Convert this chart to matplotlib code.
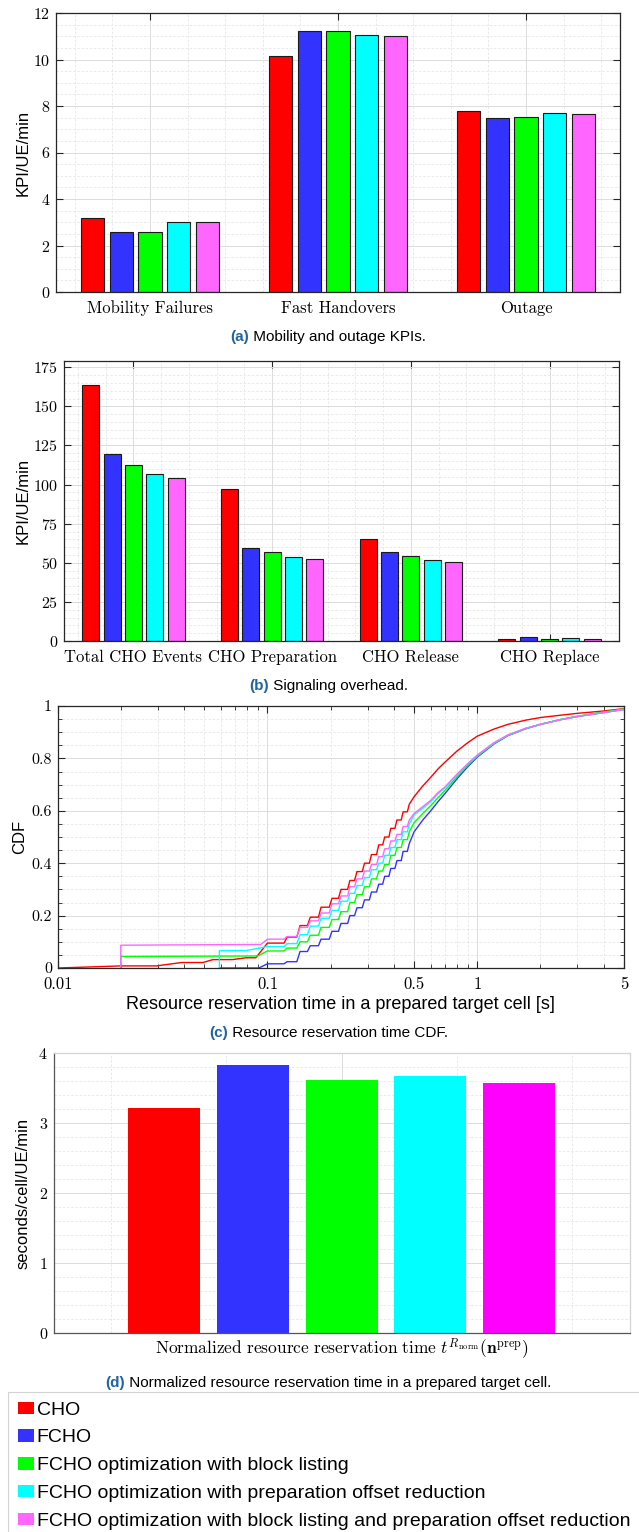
"""Recreate the four-panel CHO / FCHO comparison figure."""
import matplotlib
matplotlib.use("Agg")
import matplotlib.pyplot as plt
import numpy as np
from matplotlib import font_manager
from matplotlib.patches import Patch
from matplotlib.ticker import MultipleLocator, FixedLocator, LogLocator, NullFormatter

W, H = 639, 1532

SERIES = [
    "CHO",
    "FCHO",
    "FCHO optimization with block listing",
    "FCHO optimization with preparation offset reduction",
    "FCHO optimization with block listing and preparation offset reduction",
]
BAR_COLORS = ["#ff0000", "#3333ff", "#00ff00", "#00ffff", "#ff66ff"]
NORM_COLORS = ["#ff0000", "#3333ff", "#00ff00", "#00ffff", "#ff00ff"]

# (a) mobility and outage KPIs, one row per series
KPI_CATS = ["Mobility Failures", "Fast Handovers", "Outage"]
KPI_VALUES = [
    [3.19, 10.14, 7.79],
    [2.57, 11.23, 7.50],
    [2.59, 11.24, 7.51],
    [3.01, 11.04, 7.69],
    [3.00, 11.03, 7.67],
]
KPI_YTICKS = [0, 2, 4, 6, 8, 10, 12]

# (b) signaling overhead
SIG_CATS = ["Total CHO Events", "CHO Preparation", "CHO Release", "CHO Replace"]
SIG_VALUES = [
    [163.7, 96.9, 65.1, 1.5],
    [119.3, 59.5, 57.2, 2.8],
    [112.5, 56.8, 54.4, 1.5],
    [106.9, 53.6, 51.6, 1.9],
    [103.9, 52.5, 50.4, 1.3],
]
SIG_YTICKS = [0, 25, 50, 75, 100, 125, 150, 175]

# (c) resource reservation time CDF
CDF_XTICKS = [0.01, 0.1, 0.5, 1, 5]
CDF_XLABELS = ["0.01", "0.1", "0.5", "1", "5"]
CDF_YTICKS = [0, 0.2, 0.4, 0.6, 0.8, 1]
CDF_YLABELS = ["0", "0.2", "0.4", "0.6", "0.8", "1"]
# start and end of each small ramp in the staircase part of the curves
STEP_X = [0.1, 0.12, 0.138, 0.155, 0.175, 0.197, 0.218, 0.241, 0.26, 0.283,
          0.306, 0.331, 0.354, 0.379, 0.405, 0.434, 0.464]
STEP_TOP_X = [0.1, 0.124, 0.143, 0.16, 0.18, 0.203, 0.224, 0.247, 0.267, 0.29,
              0.313, 0.339, 0.362, 0.387, 0.414, 0.443, 0.474]
TAIL_X = [0.5, 0.55, 0.6, 0.65, 0.7, 0.8, 0.9, 1.0, 1.2, 1.4, 1.7, 2.0, 2.5,
          3.0, 4.0, 5.0]

CHO_PRE_X = [0.01, 0.02, 0.0296, 0.039, 0.0493, 0.055, 0.068, 0.079, 0.088, 0.1]
CHO_PRE_Y = [0, 0.008, 0.008, 0.021, 0.021, 0.032, 0.032, 0.039, 0.039, 0.095]
CHO_STEPS = [0.095, 0.118, 0.162, 0.194, 0.232, 0.266, 0.30, 0.334, 0.368, 0.40,
             0.433, 0.47, 0.50, 0.533, 0.565, 0.596, 0.625]
CHO_TAIL = [0.654, 0.695, 0.728, 0.76, 0.785, 0.828, 0.86, 0.885, 0.912, 0.93,
            0.946, 0.956, 0.965, 0.972, 0.981, 0.99]

FCHO_PRE_X = [0.059, 0.091, 0.1]
FCHO_PRE_Y = [0, 0, 0.016]
FCHO_STEPS = [0.016, 0.024, 0.063, 0.085, 0.11, 0.14, 0.17, 0.2, 0.23, 0.26,
              0.29, 0.32, 0.35, 0.38, 0.41, 0.445, 0.475]
FCHO_TAIL = [0.52, 0.565, 0.6, 0.635, 0.665, 0.722, 0.768, 0.805, 0.855, 0.887,
             0.913, 0.93, 0.948, 0.96, 0.975, 0.987]

BL_PRE_X = [0.02, 0.02, 0.09, 0.1]
BL_PRE_Y = [0, 0.044, 0.046, 0.065]
BL_STEPS = [0.065, 0.076, 0.10, 0.125, 0.155, 0.185, 0.215, 0.25, 0.28, 0.31,
            0.34, 0.37, 0.395, 0.43, 0.46, 0.49, 0.52]
BL_TAIL = [0.555, 0.59, 0.62, 0.65, 0.677, 0.73, 0.773, 0.808, 0.857, 0.888,
           0.914, 0.93, 0.949, 0.961, 0.977, 0.989]

POR_PRE_X = [0.059, 0.059, 0.0785, 0.1]
POR_PRE_Y = [0, 0.066, 0.066, 0.082]
POR_STEPS = [0.082, 0.093, 0.127, 0.16, 0.19, 0.22, 0.255, 0.285, 0.315, 0.345,
             0.375, 0.40, 0.43, 0.46, 0.49, 0.52, 0.55]
POR_TAIL = [0.585, 0.61, 0.635, 0.665, 0.688, 0.737, 0.778, 0.811, 0.858, 0.889,
            0.914, 0.93, 0.948, 0.96, 0.975, 0.987]

BLPOR_PRE_X = [0.02, 0.02, 0.093, 0.1]
BLPOR_PRE_Y = [0, 0.087, 0.09, 0.11]
BLPOR_STEPS = [0.11, 0.12, 0.155, 0.18, 0.21, 0.245, 0.275, 0.31, 0.34, 0.37,
               0.395, 0.425, 0.455, 0.485, 0.51, 0.54, 0.565]
BLPOR_TAIL = [0.59, 0.616, 0.64, 0.67, 0.69, 0.74, 0.78, 0.813, 0.86, 0.89,
              0.915, 0.93, 0.948, 0.96, 0.975, 0.987]

# (d) normalized resource reservation time
NORM_VALUES = [3.22, 3.83, 3.62, 3.67, 3.57]
NORM_YTICKS = [0, 1, 2, 3, 4]

CAPTIONS = [
    ("(a)", "Mobility and outage KPIs."),
    ("(b)", "Signaling overhead."),
    ("(c)", "Resource reservation time CDF."),
    ("(d)", "Normalized resource reservation time in a prepared target cell."),
]

_names = {f.name for f in font_manager.fontManager.ttflist}
SANS = "Liberation Sans"
NARROW = "Liberation Sans Narrow" if "Liberation Sans Narrow" in _names else SANS

plt.rcParams["mathtext.fontset"] = "cm"
plt.rcParams["axes.formatter.use_mathtext"] = True

GROUP_STEP = 0.1538
BAR_W = 0.123
OFFSETS = (np.arange(5) - 2) * GROUP_STEP
SPINE = "#262626"


def px_axes(fig, l, t, r, b):
    return fig.add_axes([l / W, 1 - b / H, (r - l) / W, (b - t) / H])


def style(ax, minor_y, minor_x=None):
    ax.set_axisbelow(True)
    for s in ax.spines.values():
        s.set_color(SPINE)
        s.set_linewidth(0.9)
    ax.yaxis.set_minor_locator(MultipleLocator(minor_y))
    if minor_x is not None:
        ax.xaxis.set_minor_locator(MultipleLocator(minor_x))
    ax.grid(True, which="major", color="#dcdcdc", lw=0.7, ls="-")
    ax.grid(True, which="minor", color="#e6e6e6", lw=0.6, ls=(0, (3, 2)))
    ax.tick_params(which="both", direction="in", top=True, right=True,
                   color=SPINE, labelfontfamily="cmr10")
    ax.tick_params(which="major", length=5, width=0.8)
    ax.tick_params(axis="y", labelsize=11.5, pad=4)
    ax.tick_params(axis="x", labelsize=12, pad=6)


def ylabel(fig, x, y, text):
    fig.text(x / W, 1 - y / H, text, rotation=90, ha="center", va="center",
             fontsize=12, family=SANS)


def grouped_bars(ax, cats, values):
    x = np.arange(1, len(cats) + 1)
    for i, vals in enumerate(values):
        ax.bar(x + OFFSETS[i], vals, width=BAR_W, color=BAR_COLORS[i],
               edgecolor="#1a1a1a", lw=0.8, label=SERIES[i])
    ax.set_xticks(x, cats)
    ax.set_xlim(0.5, len(cats) + 0.5)
    ax.tick_params(which="minor", length=0)


def cdf_path(pre_x, pre_y, steps, tail):
    xs, ys = list(pre_x), list(pre_y)
    for k in range(1, len(STEP_X)):
        xs += [STEP_X[k], STEP_TOP_X[k]]
        ys += [steps[k - 1], steps[k]]
    return xs + TAIL_X, ys + tail


fig = plt.figure(figsize=(W / 100, H / 100), dpi=100)

# (a)
ax = px_axes(fig, 56, 13, 620, 292)
style(ax, 0.5, 0.2)
grouped_bars(ax, KPI_CATS, KPI_VALUES)
ax.set_ylim(0, 12)
ax.set_yticks(KPI_YTICKS)
ylabel(fig, 23.5, 152.5, "KPI/UE/min")

# (b)
ax = px_axes(fig, 64, 361, 619, 641)
style(ax, 5, 0.2)
grouped_bars(ax, SIG_CATS, SIG_VALUES)
ax.set_ylim(0, 179)
ax.set_yticks(SIG_YTICKS)
ylabel(fig, 23.5, 501, "KPI/UE/min")

# (c)
ax = px_axes(fig, 57.6, 706, 624, 968)
ax.set_xscale("log")
style(ax, 0.05)
curves = [
    (CHO_PRE_X, CHO_PRE_Y, CHO_STEPS, CHO_TAIL),
    (FCHO_PRE_X, FCHO_PRE_Y, FCHO_STEPS, FCHO_TAIL),
    (BL_PRE_X, BL_PRE_Y, BL_STEPS, BL_TAIL),
    (POR_PRE_X, POR_PRE_Y, POR_STEPS, POR_TAIL),
    (BLPOR_PRE_X, BLPOR_PRE_Y, BLPOR_STEPS, BLPOR_TAIL),
]
for (px, py, st, tl), color in zip(curves, BAR_COLORS):
    xs, ys = cdf_path(px, py, st, tl)
    ax.plot(xs, ys, color=color, lw=1.0)
ax.set_xlim(0.01, 5)
ax.set_ylim(0, 1)
ax.xaxis.set_major_locator(FixedLocator(CDF_XTICKS))
ax.xaxis.set_minor_locator(LogLocator(subs=np.arange(2, 10)))
ax.xaxis.set_minor_formatter(NullFormatter())
ax.set_xticks(CDF_XTICKS, CDF_XLABELS)
ax.set_yticks(CDF_YTICKS, CDF_YLABELS)
ax.tick_params(which="minor", length=3, width=0.6)
ax.set_xlabel("Resource reservation time in a prepared target cell [s]",
              fontsize=13, family=NARROW, labelpad=3)
ylabel(fig, 19.5, 837, "CDF")

# (d)
ax = px_axes(fig, 53.5, 1053, 630, 1333)
style(ax, 0.2, 0.2)
for s in ("top", "right"):
    ax.spines[s].set_color("#d4d4d4")
for s in ("left", "bottom"):
    ax.spines[s].set_color("#555555")
for i, v in enumerate(NORM_VALUES):
    ax.bar(1 + OFFSETS[i], v, width=0.125, color=NORM_COLORS[i], lw=0)
ax.set_xlim(0.5, 1.5)
ax.set_ylim(0, 4)
ax.set_yticks(NORM_YTICKS)
ax.set_xticks([1], [r"$\mathrm{Normalized\ resource\ reservation\ time}\ "
                    r"t^{R_\mathrm{norm}}(\mathbf{n}^\mathrm{prep})$"])
ax.tick_params(which="both", length=0)
ax.tick_params(axis="x", pad=2, labelsize=12.5)
ylabel(fig, 23, 1193, "seconds/cell/UE/min")

# captions, centered, with the blue bold label
fig.canvas.draw()
renderer = fig.canvas.get_renderer()
for (tag, rest), yc in zip(CAPTIONS, [337, 686, 1033, 1383]):
    t1 = fig.text(0, 1 - yc / H, tag, fontsize=11, family=NARROW, weight="bold",
                  color="#1f64a4", ha="left", va="center")
    t2 = fig.text(0, 1 - yc / H, " " + rest, fontsize=11, family=NARROW,
                  ha="left", va="center")
    w1 = t1.get_window_extent(renderer).width
    w2 = t2.get_window_extent(renderer).width
    x0 = 328.5 - (w1 + w2) / 2
    t1.set_x(x0 / W)
    t2.set_x((x0 + w1) / W)

handles = [Patch(facecolor=c, edgecolor="none") for c in NORM_COLORS[:1] + BAR_COLORS[1:]]
leg = fig.legend(handles, SERIES, loc="upper left",
                 bbox_to_anchor=(8 / W, 1 - 1392 / H), borderaxespad=0,
                 frameon=True, fancybox=False, edgecolor="#c8c8c8",
                 handlelength=0.85, handleheight=0.6, handletextpad=0.12,
                 labelspacing=0.55, borderpad=0.5,
                 prop={"family": NARROW, "size": 14})
leg.get_frame().set_linewidth(0.8)

fig.savefig("out.png", dpi=100)
